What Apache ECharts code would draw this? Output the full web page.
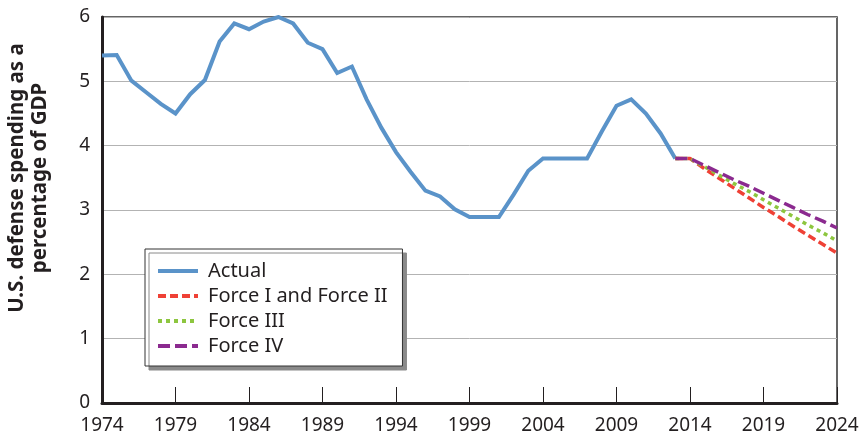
<!DOCTYPE html>
<html>
<head>
<meta charset="utf-8">
<script src="https://cdn.jsdelivr.net/npm/echarts@6/dist/echarts.min.js"></script>
<style>
html,body{margin:0;padding:0;background:#fff;}
#chart{width:863px;height:435px;}
</style>
</head>
<body>
<div id="chart"></div>
<script>
// Categories: years 1974..2024
var years = ['1974','1975','1976','1977','1978','1979','1980','1981','1982','1983',
             '1984','1985','1986','1987','1988','1989','1990','1991','1992','1993',
             '1994','1995','1996','1997','1998','1999','2000','2001','2002','2003',
             '2004','2005','2006','2007','2008','2009','2010','2011','2012','2013',
             '2014','2015','2016','2017','2018','2019','2020','2021','2022','2023','2024'];

// Actual defense spending, 1974..2013
var actual = [5.40, 5.41, 5.01, 4.83, 4.65, 4.50, 4.80, 5.02, 5.62, 5.90,
              5.81, 5.93, 6.00, 5.90, 5.60, 5.50, 5.13, 5.23, 4.72, 4.28,
              3.90, 3.59, 3.30, 3.21, 3.01, 2.89, 2.89, 2.89, 3.24, 3.61,
              3.80, 3.80, 3.80, 3.80, 4.22, 4.62, 4.72, 4.50, 4.19, 3.80];

// Projections, 2013..2024
var forceI_II = [3.80, 3.80, 3.64, 3.49, 3.34, 3.19, 3.04, 2.90, 2.75, 2.61, 2.47, 2.33];
var forceIII  = [3.80, 3.80, 3.67, 3.54, 3.41, 3.29, 3.16, 3.03, 2.90, 2.77, 2.65, 2.52];
var forceIV   = [3.80, 3.80, 3.69, 3.58, 3.47, 3.37, 3.26, 3.15, 3.04, 2.93, 2.83, 2.72];

var yTicks = [0, 1, 2, 3, 4, 5, 6];
var yTitle = 'U.S. defense spending as a\npercentage of GDP';

function alignTo(startYear, arr) {
  var out = [];
  var start = years.indexOf(startYear);
  for (var i = 0; i < years.length; i++) {
    var k = i - start;
    out.push(k >= 0 && k < arr.length ? arr[k] : null);
  }
  return out;
}

var FONT = '"Noto Sans", "Open Sans", sans-serif';
var TXT = '#231f20';

var chart = echarts.init(document.getElementById('chart'), null, {renderer: 'canvas'});
chart.setOption({
  animation: false,
  backgroundColor: '#fff',
  textStyle: {fontFamily: FONT},
  grid: {
    left: 102, right: 26, top: 17, bottom: 32,
    show: true, borderColor: '#333', borderWidth: 1.5, backgroundColor: 'transparent'
  },
  graphic: [{
    type: 'text',
    x: 29, y: 178,
    rotation: Math.PI / 2,
    style: {
      text: yTitle,
      fontFamily: FONT,
      fontWeight: 'bold',
      fontSize: 20.5,
      lineHeight: 23,
      fill: TXT,
      align: 'center',
      verticalAlign: 'middle'
    }
  }],
  legend: {
    orient: 'vertical',
    left: 145, top: 249,
    padding: [12, 15, 10, 11],
    backgroundColor: '#fff',
    borderColor: '#333',
    borderWidth: 1,
    shadowColor: '#8a8a8a',
    shadowBlur: 0,
    shadowOffsetX: 4,
    shadowOffsetY: 4,
    itemWidth: 40,
    itemHeight: 14,
    itemGap: 5,
    itemStyle: {opacity: 0},
    lineStyle: {width: 4},
    textStyle: {fontFamily: FONT, fontSize: 20, color: TXT, lineHeight: 20, padding: [0, 0, 0, 5]},
    data: ['Actual', 'Force I and Force II', 'Force III', 'Force IV']
  },
  xAxis: {
    type: 'category',
    data: years,
    boundaryGap: false,
    axisLine: {show: true, lineStyle: {color: '#231f20', width: 3}},
    axisTick: {show: true, inside: true, length: 16, interval: 4, lineStyle: {color: '#231f20', width: 1}},
    axisLabel: {interval: 4, fontFamily: FONT, fontSize: 19, color: TXT, margin: 13},
    splitLine: {show: false}
  },
  yAxis: {
    type: 'value',
    min: yTicks[0], max: yTicks[yTicks.length - 1], interval: 1,
    axisLine: {show: true, lineStyle: {color: '#231f20', width: 3}},
    axisTick: {show: false},
    axisLabel: {fontFamily: FONT, fontSize: 19, color: TXT, margin: 12},
    splitLine: {show: true, lineStyle: {color: '#b3b3b3', width: 1}}
  },
  series: [
    {
      name: 'Actual', type: 'line', data: alignTo('1974', actual),
      symbol: 'none', connectNulls: false, z: 3,
      lineStyle: {color: '#5a93c9', width: 4, join: 'miter'},
      itemStyle: {color: '#5a93c9'}
    },
    {
      name: 'Force I and Force II', type: 'line', data: alignTo('2013', forceI_II),
      symbol: 'none', z: 4,
      lineStyle: {color: '#ef4136', width: 3.5, type: [8, 4]},
      itemStyle: {color: '#ef4136'}
    },
    {
      name: 'Force III', type: 'line', data: alignTo('2013', forceIII),
      symbol: 'none', z: 5,
      lineStyle: {color: '#8dc63f', width: 3.5, type: [4, 4]},
      itemStyle: {color: '#8dc63f'}
    },
    {
      name: 'Force IV', type: 'line', data: alignTo('2013', forceIV),
      symbol: 'none', z: 6,
      lineStyle: {color: '#8b2a8f', width: 3.5, type: [12, 5]},
      itemStyle: {color: '#8b2a8f'}
    }
  ]
});
</script>
</body>
</html>
